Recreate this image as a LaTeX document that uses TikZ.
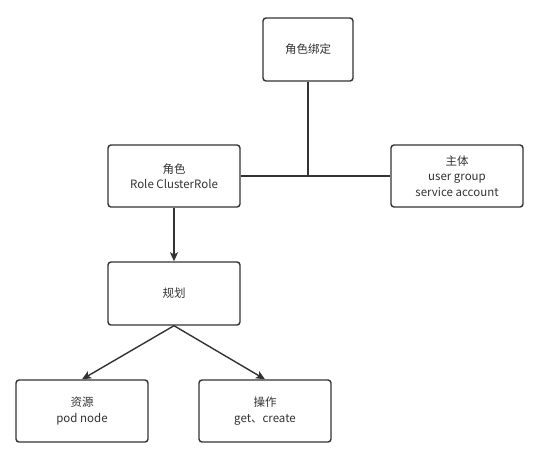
\documentclass[tikz,border=0pt]{standalone}
\usepackage{fontspec}
\setmainfont{Noto Sans CJK SC}
\usetikzlibrary{arrows.meta}
\definecolor{ln}{HTML}{333333}
\definecolor{tx}{HTML}{333333}
\tikzset{
  box/.style={draw=ln, line width=1.4pt, rounded corners=3pt, fill=white, text=tx,
    align=center, font=\fontsize{11.5}{15.5}\selectfont, inner sep=0pt},
  conn/.style={draw=ln, line width=1.4pt},
  arr/.style={conn, -{Stealth[length=9pt,width=8pt,inset=2pt]}},
}
\begin{document}
\begin{tikzpicture}[x=1pt,y=-1pt]
\useasboundingbox (0,0) rectangle (545,459);
\node[box, minimum width=90pt, minimum height=63pt] (bind) at (308,49.5) {角色绑定};
\node[box, minimum width=132pt, minimum height=62pt] (role) at (174,176) {角色\\Role ClusterRole};
\node[box, minimum width=132pt, minimum height=62pt] (subj) at (457,176) {主体\\user group\\service account};
\node[box, minimum width=132pt, minimum height=63pt] (plan) at (174,293.5) {规划};
\node[box, minimum width=132pt, minimum height=62pt] (res) at (82,411) {资源\\pod node};
\node[box, minimum width=132pt, minimum height=62pt] (op) at (265,411) {操作\\get、create};
\coordinate (j) at (bind.south |- role.east);
\draw[conn] (role.east) -- (subj.west);
\draw[conn] (bind.south) -- (j);
\draw[arr] (role.south) -- (plan.north);
\draw[arr] (plan.south) -- (res.north);
\draw[arr] (plan.south) -- (op.north);
\end{tikzpicture}
\end{document}
